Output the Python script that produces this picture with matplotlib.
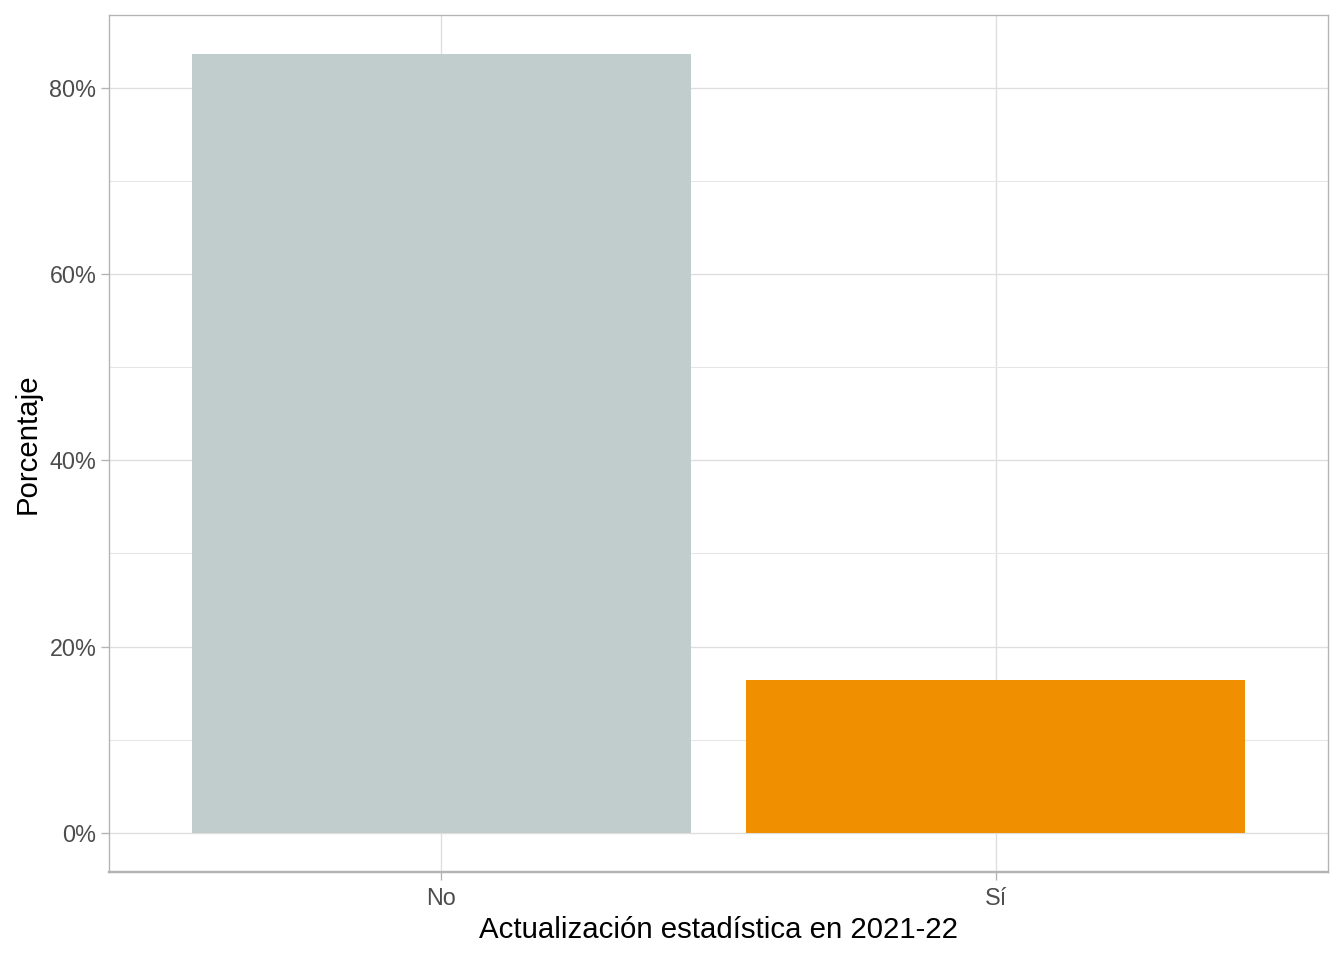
import matplotlib
matplotlib.use("Agg")
import matplotlib.pyplot as plt
from matplotlib.ticker import FuncFormatter, MultipleLocator

categories = ["No", "Sí"]
values = [83.6, 16.4]
colors = ["#C1CCCC", "#F09000"]

plt.rcParams['font.family'] = ['Liberation Sans', 'DejaVu Sans']

fig = plt.figure(figsize=(14, 10), dpi=96)
ax = fig.add_axes([109 / 1344, 1 - 872 / 960, (1328 - 109) / 1344, (872 - 15) / 960])

x = list(range(len(categories)))
ax.bar(x, values, width=0.9, color=colors, zorder=2)

ax.set_xlim(-0.6, 1.6)
top = max(values)
ax.set_ylim(-0.05 * top, top * 1.05)

ax.set_xticks(x)
ax.set_xticklabels(categories)
ax.yaxis.set_major_locator(MultipleLocator(20))
ax.yaxis.set_minor_locator(MultipleLocator(10))
ax.yaxis.set_major_formatter(FuncFormatter(lambda v, p: f"{v:.0f}%"))

ax.grid(which='major', color='#DEDEDE', linewidth=1.0, zorder=0)
ax.grid(which='minor', axis='y', color='#E6E6E6', linewidth=0.8, zorder=0)
ax.set_axisbelow(True)

for name, sp in ax.spines.items():
    sp.set_color('#B3B3B3')
    sp.set_linewidth(1.0)
ax.spines['bottom'].set_linewidth(1.8)

ax.tick_params(which='major', colors='#B3B3B3', labelcolor='#4D4D4D', labelsize=17.5, length=6, width=1)
ax.tick_params(axis='x', pad=5)
ax.tick_params(which='minor', length=0)

ax.set_xlabel("Actualización estadística en 2021-22", fontsize=22, color='black', labelpad=5)
ax.set_ylabel("Porcentaje", fontsize=22, color='black', labelpad=6)

fig.savefig("out.png", dpi=96)
